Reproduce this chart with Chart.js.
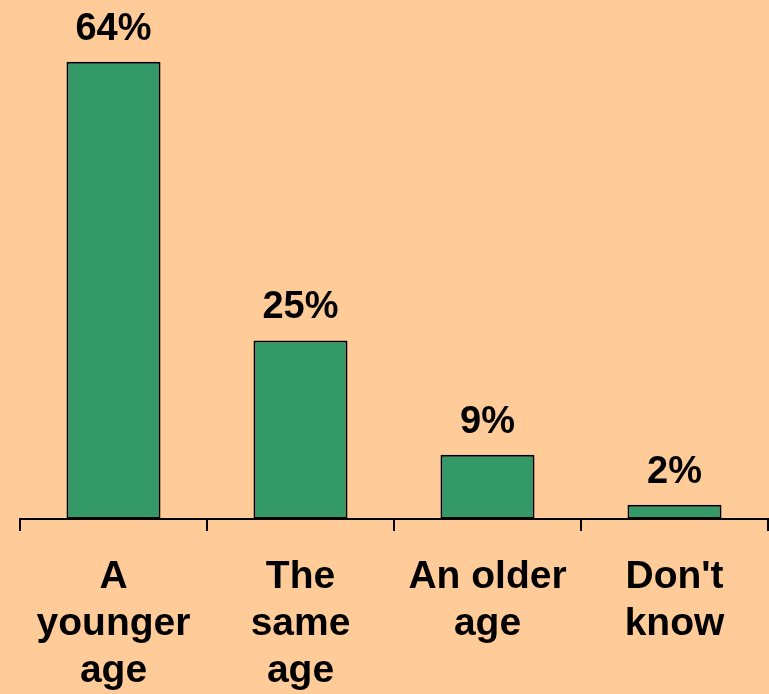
<!DOCTYPE html>
<html>
<head>
<meta charset="utf-8">
<script src="https://cdn.jsdelivr.net/npm/chart.js@4"></script>
<style>
  html, body { margin: 0; padding: 0; background: #FFCC99; }
  #wrap { width: 769px; height: 694px; }
</style>
</head>
<body>
<div id="wrap"><canvas id="chart" width="769" height="694"></canvas></div>
<script>
// datos
const categories = [['A', 'younger', 'age'], ['The', 'same', 'age'], ['An older', 'age'], ["Don't", 'know']];
const values = [64, 25, 9, 2];
const valueLabels = ['64%', '25%', '9%', '2%'];

const FONT = '"Liberation Sans", Arial, sans-serif';

// etiquetas encima de las barras
const barLabels = {
  id: 'barLabels',
  afterDatasetsDraw(chart) {
    const ctx = chart.ctx;
    const meta = chart.getDatasetMeta(0);
    ctx.save();
    ctx.font = 'bold 38px ' + FONT;
    ctx.fillStyle = '#000';
    ctx.textAlign = 'center';
    ctx.textBaseline = 'alphabetic';
    meta.data.forEach((bar, i) => {
      ctx.fillText(valueLabels[i], bar.x, bar.y - 22);
    });
    ctx.restore();
  }
};

new Chart(document.getElementById('chart'), {
  type: 'bar',
  data: {
    labels: categories,
    datasets: [{
      data: values,
      backgroundColor: '#339966',
      borderColor: '#000',
      borderWidth: 2,
      borderSkipped: false,
      barPercentage: 0.503,
      categoryPercentage: 1
    }]
  },
  options: {
    responsive: false,
    animation: false,
    layout: { padding: { left: 20, right: 1, top: 19, bottom: 0 } },
    plugins: { legend: { display: false }, tooltip: { enabled: false } },
    scales: {
      y: { display: false, min: 0, max: 70 },
      x: {
        afterFit(scale) { scale.height = 175; },
        grid: {
          display: true,
          drawOnChartArea: false,
          drawTicks: true,
          tickLength: 12,
          color: '#000',
          lineWidth: 2
        },
        border: { display: true, color: '#000', width: 2 },
        ticks: {
          color: '#000',
          padding: 23,
          maxRotation: 0,
          autoSkip: false,
          font: { family: FONT, size: 39, weight: 'bold', lineHeight: 1.205 }
        }
      }
    }
  },
  plugins: [barLabels]
});
</script>
</body>
</html>
